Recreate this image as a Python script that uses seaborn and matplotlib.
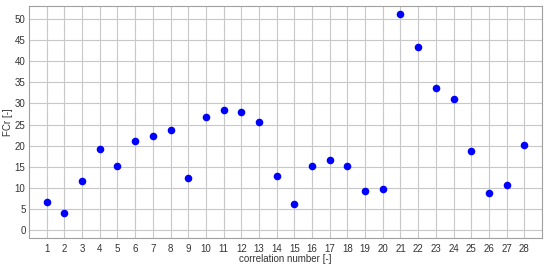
import matplotlib
matplotlib.use("Agg")
import matplotlib.pyplot as plt
import seaborn as sns
import pandas as pd

correlation_number = list(range(1, 29))
fcr_values = [6.6, 4.1, 11.5, 19.3, 15.1, 21.1, 22.2, 23.7, 12.3, 26.9,
              28.5, 27.9, 25.5, 12.7, 6.2, 15.2, 16.5, 15.1, 9.3, 9.8,
              51.3, 43.4, 33.6, 31.0, 18.8, 8.7, 10.6, 20.1]
y_ticks = list(range(0, 55, 5))

df = pd.DataFrame({"corr": correlation_number, "fcr": fcr_values})

sns.set_style("white")
plt.rcParams['font.family'] = ['Liberation Sans', 'DejaVu Sans']

fig = plt.figure(figsize=(5.5, 2.66), dpi=100)
ax = fig.add_axes([29/550, 1 - 238/266, (542-29)/550, (238-6)/266])

sns.scatterplot(data=df, x="corr", y="fcr", ax=ax, color="#0000ff",
                s=30, edgecolor="#0000ff", linewidth=0, zorder=3)

ax.set_xlim(0, 29)
ax.set_ylim(-1.9, 53.1)
ax.set_xticks(correlation_number)
ax.set_yticks(y_ticks)
ax.grid(True, color="#c8c8c8", linewidth=0.8)
ax.set_axisbelow(True)
for sp in ax.spines.values():
    sp.set_color("#a0a0a0")
    sp.set_linewidth(0.8)
ax.tick_params(axis="y", length=0, labelsize=7, colors="#333333", pad=2.5)
ax.tick_params(axis="x", length=0, labelsize=7, colors="#333333", pad=4)
ax.set_xlabel("correlation number [-]", fontsize=7, color="#333333", labelpad=0.5)
ax.set_ylabel("FCr [-]", fontsize=7, color="#333333", labelpad=1.5)

fig.savefig("out.png", dpi=100)
